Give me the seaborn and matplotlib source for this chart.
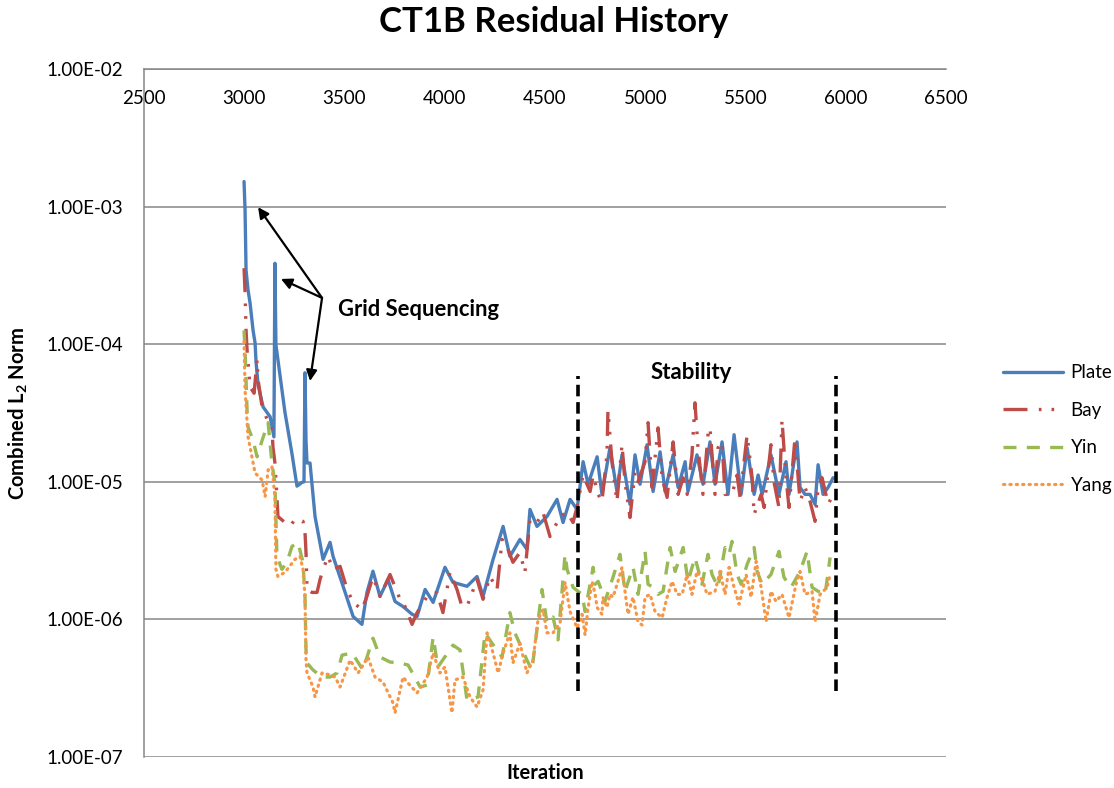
import numpy as np
import pandas as pd
import matplotlib
matplotlib.use("Agg")
import matplotlib.pyplot as plt
from matplotlib.ticker import FixedLocator, FuncFormatter, NullLocator
import seaborn as sns

# ---------------- data ----------------
plate_iter = [2999, 3004, 3009, 3019, 3029, 3044, 3054, 3059, 3069, 3094, 3129, 3148,
              3153, 3158, 3168, 3203, 3238, 3263, 3288, 3298, 3303, 3308, 3313, 3328,
              3353, 3393, 3428, 3443, 3493, 3543, 3587, 3612, 3642, 3677, 3717, 3752,
              3792, 3837, 3862, 3902, 3942, 4001, 4041, 4111, 4161, 4191, 4241, 4291,
              4325, 4375, 4410, 4425, 4460, 4510, 4560, 4590, 4625, 4660,
              4690, 4715, 4760, 4784, 4824, 4859, 4884, 4924, 4949, 4974, 5009, 5039,
              5074, 5099, 5139, 5164, 5199, 5213, 5258, 5288, 5323, 5348, 5383, 5413,
              5443, 5478, 5508, 5543, 5563, 5583, 5627, 5667, 5702, 5717, 5757, 5772,
              5797, 5822, 5847, 5862, 5887, 5912, 5937]
plate_res = [1.52e-3, 9.4e-4, 3.45e-4, 2.47e-4, 1.99e-4, 1.26e-4, 1.02e-4, 7.35e-5, 5.06e-5, 3.5e-5, 2.97e-5, 2.12e-5,
             3.87e-4, 9.9e-5, 7.7e-5, 3.2e-5, 1.6e-5, 9.3e-6, 9.9e-6, 1.0e-5, 6.2e-5, 2.0e-5, 1.37e-5, 1.37e-5,
             5.6e-6, 2.73e-6, 3.63e-6, 2.87e-6, 1.74e-6, 1.05e-6, 9.2e-7, 1.57e-6, 2.24e-6, 1.47e-6, 1.95e-6, 1.35e-6,
             1.24e-6, 1.09e-6, 1.05e-6, 1.65e-6, 1.33e-6, 2.39e-6, 1.86e-6, 1.74e-6, 2.05e-6, 1.47e-6, 2.73e-6, 4.74e-6,
             2.87e-6, 3.81e-6, 3.23e-6, 6.3e-6, 4.74e-6, 5.6e-6, 7.45e-6, 5.06e-6, 7.45e-6, 6.3e-6,
             1.40e-5, 9.6e-6, 1.52e-5, 8.1e-6, 1.77e-5, 8.5e-6, 1.57e-5, 6.85e-6, 1.57e-5, 9.6e-6, 1.86e-5, 8.5e-6,
             1.65e-5, 8.5e-6, 1.57e-5, 9.1e-6, 1.40e-5, 8.5e-6, 1.57e-5, 9.6e-6, 1.95e-5, 9.6e-6, 1.95e-5, 8.1e-6,
             2.2e-5, 8.1e-6, 1.77e-5, 8.1e-6, 1.12e-5, 8.1e-6, 1.57e-5, 8.1e-6, 1.40e-5, 8.1e-6, 1.95e-5, 9.1e-6,
             8.1e-6, 8.1e-6, 6.85e-6, 1.33e-5, 8.1e-6, 9.1e-6, 1.07e-5]

bay_iter = [2999, 3004, 3009, 3014, 3029, 3049, 3064, 3069, 3089, 3114, 3138, 3143, 3153, 3163, 3168,
            3203, 3228, 3253, 3293, 3303, 3308, 3313, 3338, 3363, 3378, 3393, 3418, 3443, 3478, 3513,
            3543, 3587, 3612, 3642, 3677, 3727, 3777, 3802, 3837, 3862, 3912, 3961, 3991, 4026, 4061,
            4086, 4111, 4161, 4191, 4226, 4261, 4286, 4310, 4340, 4375, 4400, 4425, 4460, 4490, 4525,
            4575, 4610, 4640, 4660,
            4690, 4725, 4740, 4765, 4784, 4809, 4814, 4834, 4859, 4884, 4899, 4924, 4949, 4964, 4999,
            5014, 5034, 5064, 5084, 5109, 5139, 5164, 5189, 5209, 5233, 5248, 5263, 5288, 5313, 5323,
            5348, 5363, 5383, 5398, 5433, 5458, 5473, 5508, 5533, 5543, 5578, 5593, 5627, 5642, 5667,
            5682, 5702, 5717, 5747, 5772, 5797, 5822, 5847, 5862, 5882, 5912, 5937]
bay_res = [3.57e-4, 2.39e-4, 1.26e-4, 9.1e-5, 4.9e-5, 4.4e-5, 7.7e-5, 5.5e-5, 3.5e-5, 2.84e-5, 2.5e-5, 1.8e-5, 1.37e-5, 7.8e-6, 5.6e-6,
           5.06e-6, 4.74e-6, 5.33e-6, 5.16e-6, 4.29e-6, 3.07e-6, 1.65e-6, 1.57e-6, 1.57e-6, 1.95e-6, 2.31e-6, 2.87e-6, 2.31e-6, 2.43e-6, 1.65e-6,
           1.33e-6, 1.18e-6, 1.47e-6, 2.05e-6, 1.47e-6, 2.12e-6, 1.40e-6, 1.24e-6, 9.2e-7, 1.12e-6, 1.47e-6, 1.57e-6, 1.12e-6, 2.2e-6, 1.65e-6,
           1.24e-6, 1.24e-6, 1.95e-6, 1.40e-6, 2.05e-6, 1.65e-6, 3.81e-6, 3.39e-6, 2.6e-6, 3.07e-6, 2.2e-6, 5.33e-6, 5.06e-6, 6.0e-6, 4.0e-6,
           5.6e-6, 6.0e-6, 5.06e-6, 6.6e-6,
           1.12e-5, 8.5e-6, 1.12e-5, 8.1e-6, 7.2e-6, 1.57e-5, 3.33e-5, 1.40e-5, 7.2e-6, 1.86e-5, 1.0e-5, 5.5e-6, 1.18e-5, 1.0e-5, 1.40e-5,
           2.69e-5, 9.1e-6, 2.47e-5, 1.07e-5, 7.7e-6, 1.95e-5, 8.1e-6, 1.07e-5, 8.1e-6, 1.57e-5, 3.75e-5, 1.77e-5, 8.1e-6, 2.2e-5, 2.47e-5,
           8.1e-6, 1.77e-5, 1.95e-5, 8.1e-6, 8.1e-6, 1.12e-5, 7.7e-6, 2.2e-5, 1.07e-5, 5.8e-6, 8.1e-6, 6.5e-6, 1.86e-5, 1.0e-5, 6.5e-6,
           2.82e-5, 1.07e-5, 6.5e-6, 2.09e-5, 7.2e-6, 9.1e-6, 7.2e-6, 5.16e-6, 9.1e-6, 1.07e-5, 6.85e-6, 8.1e-6]

yin_iter = [2999, 3004, 3014, 3019, 3044, 3064, 3089, 3119, 3138, 3153, 3158, 3163, 3188, 3213, 3238,
            3268, 3293, 3303, 3308, 3313, 3343, 3388, 3428, 3463, 3488, 3538, 3592, 3642, 3677, 3727,
            3777, 3817, 3877, 3912, 3942, 3966, 4041, 4076, 4111, 4166, 4201, 4236, 4286, 4325, 4350,
            4410, 4435, 4485, 4510, 4540, 4565, 4600, 4610,
            4640, 4685, 4700, 4740, 4750, 4765, 4784, 4799, 4839, 4874, 4899, 4939, 4964, 4999, 5014,
            5039, 5064, 5089, 5124, 5149, 5189, 5213, 5248, 5283, 5313, 5333, 5363, 5398, 5418, 5433,
            5458, 5478, 5508, 5543, 5558, 5583, 5627, 5667, 5692, 5727, 5772, 5807, 5832, 5862, 5897,
            5922]
yin_res = [1.26e-4, 9.1e-5, 3.33e-5, 2.5e-5, 2.0e-5, 1.52e-5, 2.0e-5, 2.69e-5, 1.37e-5, 9.8e-6, 5.33e-6, 2.87e-6, 2.31e-6, 2.6e-6, 3.39e-6,
           3.63e-6, 2.6e-6, 1.47e-6, 6.0e-7, 4.82e-7, 4.29e-7, 3.81e-7, 3.81e-7, 4.08e-7, 5.5e-7, 5.7e-7, 4.29e-7, 7.3e-7, 5.33e-7, 4.9e-7,
           4.82e-7, 4.66e-7, 3.23e-7, 3.33e-7, 7.45e-7, 4.51e-7, 6.5e-7, 6.0e-7, 2.6e-7, 2.73e-7, 7.98e-7, 6.7e-7, 5.33e-7, 1.12e-6, 7.98e-7,
           5.06e-7, 4.29e-7, 1.65e-6, 9.4e-7, 1.04e-6, 7.1e-7, 2.97e-6, 2.31e-6,
           1.71e-6, 1.52e-6, 1.14e-6, 2.39e-6, 1.80e-6, 1.89e-6, 1.6e-6, 1.35e-6, 2.02e-6, 2.97e-6, 1.6e-6, 2.39e-6, 1.52e-6, 3.12e-6, 1.80e-6,
           1.71e-6, 1.52e-6, 1.6e-6, 3.33e-6, 2.23e-6, 3.33e-6, 1.89e-6, 2.82e-6, 1.80e-6, 2.97e-6, 2.12e-6, 1.71e-6, 3.33e-6, 2.97e-6, 3.69e-6,
           2.12e-6, 1.80e-6, 2.51e-6, 3.33e-6, 2.23e-6, 1.80e-6, 2.12e-6, 3.12e-6, 2.02e-6, 1.71e-6, 2.23e-6, 3.12e-6, 1.71e-6, 1.6e-6, 1.52e-6,
           2.82e-6]

yang_iter = [2999, 3004, 3019, 3054, 3089, 3104, 3119, 3138, 3153, 3158, 3168, 3203, 3253, 3278, 3293,
             3303, 3308, 3313, 3343, 3353, 3388, 3428, 3453, 3478, 3528, 3568, 3617, 3652, 3692, 3742,
             3752, 3792, 3812, 3862, 3912, 3942, 3976, 4001, 4036, 4051, 4091, 4126, 4161, 4191, 4211,
             4241, 4266, 4291, 4325, 4340, 4375, 4410, 4440, 4465, 4490, 4510, 4540, 4575, 4600,
             4625, 4660, 4685, 4700, 4715, 4735, 4750, 4760, 4784, 4789, 4809, 4824, 4839, 4864, 4884,
             4899, 4914, 4939, 4964, 4984, 4999, 5024, 5049, 5084, 5109, 5134, 5159, 5184, 5209, 5233,
             5258, 5288, 5308, 5348, 5373, 5398, 5418, 5443, 5468, 5503, 5528, 5553, 5578, 5603, 5627,
             5652, 5682, 5717, 5752, 5772, 5797, 5832, 5847, 5872, 5907, 5922]
yang_res = [1.05e-4, 4.66e-5, 2.12e-5, 1.16e-5, 1.03e-5, 7.8e-6, 1.22e-5, 1.29e-5, 7.8e-6, 2.31e-6, 2.05e-6, 2.2e-6, 2.73e-6, 2.87e-6, 2.31e-6,
            1.47e-6, 5.06e-7, 4.08e-7, 3.23e-7, 2.73e-7, 4.08e-7, 3.95e-7, 3.81e-7, 3.23e-7, 5.06e-7, 4.08e-7, 5.33e-7, 3.81e-7, 3.51e-7, 2.47e-7,
            2.09e-7, 3.81e-7, 3.51e-7, 2.92e-7, 3.81e-7, 5.7e-7, 4.08e-7, 4.51e-7, 2.09e-7, 3.63e-7, 3.81e-7, 2.73e-7, 2.31e-7, 3.07e-7, 7.98e-7,
            5.7e-7, 4.08e-7, 5.7e-7, 7.98e-7, 4.82e-7, 6.7e-7, 4.08e-7, 5.06e-7, 9.9e-7, 1.18e-6, 7.98e-7, 7.98e-7, 9.4e-7, 1.86e-6,
            1.14e-6, 8.66e-7, 1.09e-6, 7.7e-7, 1.22e-6, 1.89e-6, 1.52e-6, 1.22e-6, 1.09e-6, 1.45e-6, 1.22e-6, 1.52e-6, 1.45e-6, 1.89e-6, 2.39e-6,
            1.6e-6, 1.09e-6, 1.45e-6, 9.6e-7, 9.1e-7, 1.45e-6, 1.52e-6, 1.14e-6, 1.03e-6, 1.45e-6, 1.89e-6, 1.52e-6, 1.52e-6, 2.12e-6, 1.52e-6,
            2.23e-6, 1.89e-6, 1.52e-6, 1.6e-6, 2.23e-6, 1.52e-6, 2.39e-6, 1.71e-6, 1.29e-6, 2.12e-6, 1.45e-6, 2.64e-6, 1.71e-6, 9.6e-7, 1.6e-6,
            1.35e-6, 1.52e-6, 1.03e-6, 1.80e-6, 2.23e-6, 1.52e-6, 1.6e-6, 9.6e-7, 1.52e-6, 1.71e-6, 2.12e-6]

x_ticks = [2500, 3000, 3500, 4000, 4500, 5000, 5500, 6000, 6500]
y_ticks = [1e-7, 1e-6, 1e-5, 1e-4, 1e-3, 1e-2]

stability_start = 4665
stability_end = 5950
stability_low, stability_high = 3.0e-7, 5.85e-5

# ---------------- style ----------------
sns.set_theme(style="white")
plt.rcParams["font.family"] = ["Lato", "DejaVu Sans"]
plt.rcParams["mathtext.fontset"] = "custom"
plt.rcParams["mathtext.rm"] = "Lato"
plt.rcParams["mathtext.bf"] = "Lato:bold"
plt.rcParams["text.color"] = "black"
plt.rcParams["axes.labelcolor"] = "black"
plt.rcParams["xtick.color"] = "black"
plt.rcParams["ytick.color"] = "black"

fig = plt.figure(figsize=(11.14, 7.88), dpi=100)
ax = fig.add_axes([144 / 1114, 1 - 757 / 788, (946 - 144) / 1114, (757 - 69) / 788])

series = [
    ("Plate", plate_iter, plate_res, "#4A7EBB", 2.4, "-", "butt"),
    ("Bay", bay_iter, bay_res, "#BE4B48", 2.4, (0, (7.2, 3.4, 0.8, 3.0, 0.8, 3.0)), "butt"),
    ("Yin", yin_iter, yin_res, "#98B954", 2.4, (0, (3.9, 3.1)), "butt"),
    ("Yang", yang_iter, yang_res, "#F79646", 2.3, (0, (0.4, 1.6)), "round"),
]
for name, xs, ys, col, lw, ls, cap in series:
    df = pd.DataFrame({"Iteration": xs, "Residual": ys})
    sns.lineplot(data=df, x="Iteration", y="Residual", ax=ax, color=col, lw=lw,
                 linestyle=ls, label=name, estimator=None, sort=False,
                 dash_capstyle=cap, solid_joinstyle="round")

ax.set_yscale("log")
ax.set_xlim(2500, 6500)
ax.set_ylim(1e-7, 1e-2)
ax.yaxis.set_major_locator(FixedLocator(y_ticks))
ax.yaxis.set_minor_locator(NullLocator())
ax.yaxis.set_major_formatter(FuncFormatter(lambda v, p: f"{v:.2E}"))
ax.xaxis.set_major_locator(FixedLocator(x_ticks))
ax.xaxis.set_major_formatter(FuncFormatter(lambda v, p: f"{int(round(v))}"))

ax.tick_params(axis="x", top=True, bottom=False, labeltop=True, labelbottom=False,
               length=0, pad=-27, labelsize=13.5, colors="black")
ax.tick_params(axis="y", left=True, length=0, pad=15, labelsize=13.5, colors="black")

ax.grid(False)
ax.yaxis.grid(True, color="#868686", lw=1.1)
for s in ["right", "bottom"]:
    ax.spines[s].set_visible(False)
for s in ["left", "top"]:
    ax.spines[s].set_color("#868686")
    ax.spines[s].set_linewidth(1.1)

ax.set_xlabel("")
ax.set_ylabel("")
fig.text(545 / 1114, 1 - 773 / 788, "Iteration", ha="center", va="center",
         fontsize=14.5, fontweight="bold")
fig.text(18 / 1114, 1 - 413 / 788, r"Combined L$_{\mathbf{2}}$ Norm", ha="center", va="center",
         rotation=90, fontsize=14.5, fontweight="bold")
fig.text(554 / 1114, 1 - 22 / 788, "CT1B Residual History", ha="center", va="center",
         fontsize=25, fontweight="bold")

# stability window
for xv in (stability_start, stability_end):
    ax.vlines(xv, stability_low, stability_high, colors="black", lw=2.6,
              linestyles=(0, (3.2, 1.6)))
ax.text(5228, 6.2e-5, "Stability", ha="center", va="center", fontsize=16, fontweight="bold")

# grid sequencing arrows
base = (3388, 2.17e-4)
for tip in [(3069, 9.9e-4), (3183, 2.98e-4), (3328, 5.4e-5)]:
    ax.annotate("", xy=tip, xytext=base,
                arrowprops=dict(arrowstyle="-|>", color="black", lw=1.6,
                                mutation_scale=16, shrinkA=0, shrinkB=0))
ax.text(3468, 1.8e-4, "Grid Sequencing", ha="left", va="center", fontsize=15.8, fontweight="bold")

handles, labels = ax.get_legend_handles_labels()
ax.get_legend().remove()
fig.legend(handles, labels, loc="center left", bbox_to_anchor=(1003 / 1114, 1 - 429 / 788),
           frameon=False, fontsize=13.5, handlelength=3.2, handletextpad=0.4,
           labelspacing=1.1, borderpad=0, borderaxespad=0)

fig.savefig("out.png", dpi=100)
